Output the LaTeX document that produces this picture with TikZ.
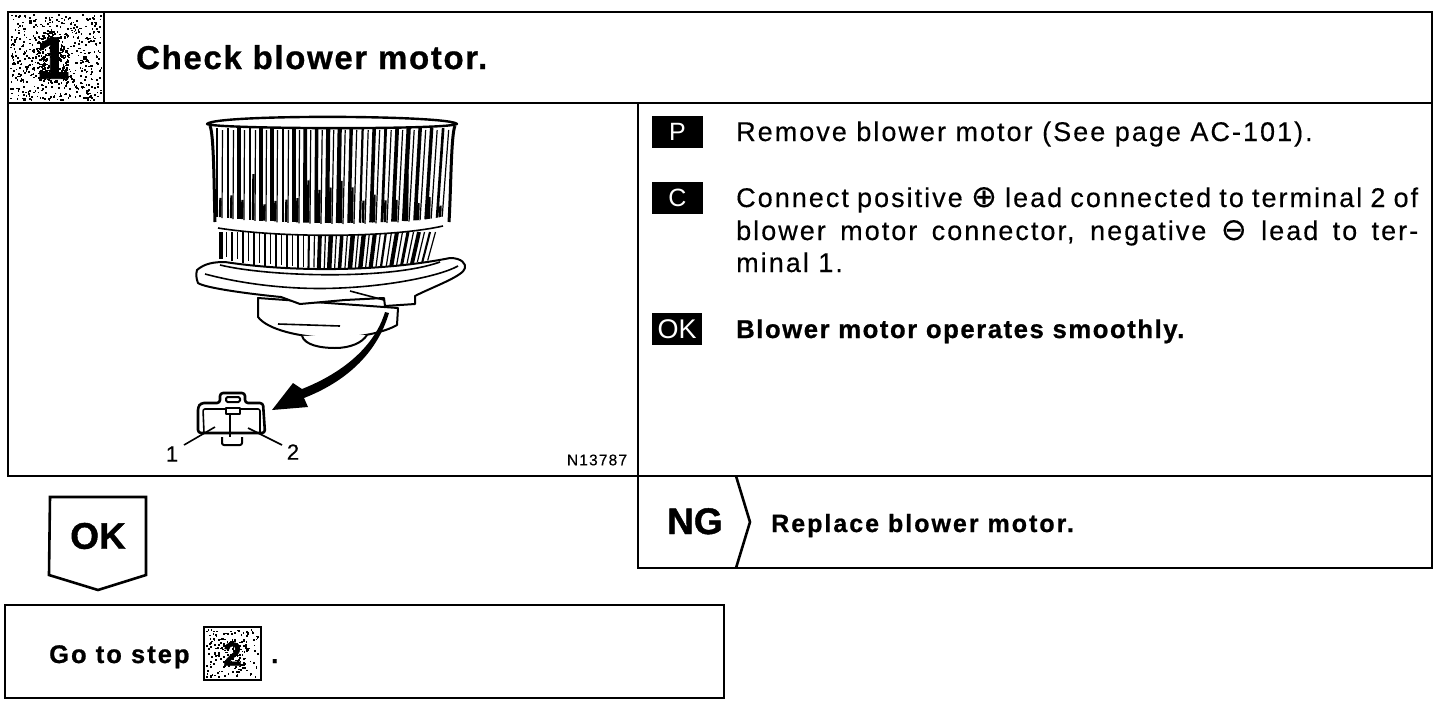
\documentclass[tikz,border=0pt]{standalone}
\usepackage{fontspec}
\setmainfont{Liberation Sans}
\newfontfamily\bodyfont[LetterSpace=7.5,FakeBold=0.35]{Liberation Sans}
\newfontfamily\heavyfont[LetterSpace=6,BoldFeatures={FakeBold=0.8}]{Liberation Sans}
\newfontfamily\markfont[BoldFeatures={FakeBold=1.2}]{Liberation Sans}
\newfontfamily\symfont[FakeBold=0.2]{DejaVu Sans}
\usetikzlibrary{positioning}
\tikzset{
  rule/.style = {line width=2.6pt, black},
  heavy/.style = {anchor=base west, inner sep=0pt, font=\bfseries\heavyfont},
  tagbox/.style = {fill=black, text=white, minimum width=51pt, minimum height=32pt, inner sep=0pt, font=\fontsize{25}{25}\selectfont},
  steptext/.style = {anchor=base west, inner sep=0pt, font=\fontsize{27}{30}\selectfont\bodyfont},
  part/.style = {line width=2pt, line join=round, fill=white},
  thinpart/.style = {line width=1.6pt},
}
% random dots for the screened squares
\newcommand{\screendots}[5]{%
  \foreach \n in {1,...,#5}{
    \pgfmathsetmacro{\dx}{#1+rnd*(#3-#1-2)}
    \pgfmathsetmacro{\dy}{#2+rnd*(#4-#2-2)}
    \fill (\dx,\dy) rectangle ++(1.7,1.7);
  }}
\begin{document}
\begin{tikzpicture}[x=1pt, y=-1pt]
  \useasboundingbox (0,0) rectangle (1456,710);
  \fill[white] (0,0) rectangle (1456,710);
  \pgfmathsetseed{137}

  % frames
  \draw[rule] (8,12) rectangle (1432,476);
  \draw[rule] (8,103) -- (1432,103);
  \draw[rule] (104,12) -- (104,103);
  \draw[rule] (638,103) -- (638,568) -- (1432,568) -- (1432,476) -- (638,476);
  \draw[rule] (736,476) -- (750,522) -- (736,568);
  \draw[rule] (50,497) -- (146,497) -- (146,575) -- (98,590) -- (49,575) -- cycle;
  \draw[rule] (5,605) rectangle (724,698);

  % step squares
  \screendots{10}{14}{103}{102}{560}
  \screendots{38}{32}{70}{84}{190}
  \node[inner sep=0pt, font=\fontsize{60}{60}\selectfont\bfseries\markfont] (num1) at (53,58) {1};
  \draw[line width=1.6pt] (204,627) rectangle (261,680);
  \screendots{206}{629}{260}{679}{130}
  \screendots{218}{638}{248}{670}{70}
  \node[inner sep=0pt, font=\fontsize{33}{33}\selectfont\bfseries\markfont] (num2) at (232.5,654) {2};

  % heading and results
  \node[heavy, font=\fontsize{33}{33}\selectfont\bfseries\heavyfont\addfontfeature{LetterSpace=5}] (title) at (136,69) {Check blower motor.};
  \node[inner sep=0pt, font=\fontsize{37}{37}\selectfont\bfseries\markfont] (okmark) at (98,536) {OK};
  \node[heavy, font=\fontsize{25.5}{26}\selectfont\bfseries\heavyfont\addfontfeature{LetterSpace=8}] (goto) at (49,663) {Go to step};
  \node[heavy, font=\fontsize{26}{26}\selectfont\bfseries\heavyfont] (gotoend) at (271,663) {.};
  \node[heavy, font=\fontsize{37}{37}\selectfont\bfseries\markfont] (ngmark) at (667,534) {NG};
  \node[heavy, font=\fontsize{25}{26}\selectfont\bfseries\heavyfont\addfontfeature{LetterSpace=8}] (replace) at (771,532) {Replace blower motor.};

  % right column
  \node[tagbox] (tagP) at (677.5,132) {P};
  \node[tagbox] (tagC) at (677.5,197.5) {C};
  \node[tagbox, minimum width=50pt, font=\fontsize{27}{27}\selectfont] (tagOK) at (677,329) {OK};
  \node[steptext] (textP) at (736,141) {Remove blower motor (See page AC-101).};
  \node[steptext] (textCa) at (736,207) {\makebox[682pt][s]{Connect positive {\symfont\fontsize{31}{31}\selectfont ⊕} lead connected to terminal 2 of}};
  \node[steptext, below=33pt of textCa.base west, anchor=base west] (textCb) {\makebox[682pt][s]{blower motor connector, negative {\symfont\fontsize{31}{31}\selectfont ⊖} lead to ter-}};
  \node[steptext, below=32pt of textCb.base west, anchor=base west] (textCc) {minal 1.};
  \node[heavy, font=\fontsize{25.7}{26}\selectfont\bfseries\heavyfont] (textOK) at (736,338) {Blower motor operates smoothly.};

  % wheel
  \foreach \x in {217,228,...,446}{
    \pgfmathsetmacro{\lean}{max(0,(\x-300)*0.045)}
    \pgfmathsetmacro{\low}{217+6*(1-((\x-335)/120)^2)}
    \pgfmathsetmacro{\wid}{2+2.6*rnd}
    \pgfmathsetmacro{\stub}{\low-12-40*rnd}
    \draw[line width=\wid pt] (\x+\lean,128) -- (\x,\low);
    \draw[line width=1.2pt] (\x+\lean+5.5,130) -- (\x+5,\low+1);
    \draw[line width=2.4pt] (\x+3.5,\stub) -- (\x+3,\low);
  }
  \foreach \x in {221,232,...,440}{
    \pgfmathsetmacro{\lean}{max(0,(\x-300)*0.06)}
    \pgfmathsetmacro{\low}{258+12*(1-((\x-335)/120)^2)}
    \pgfmathsetmacro{\wid}{2+2.6*rnd}
    \draw[line width=\wid pt] (\x,232) -- (\x-\lean,\low);
    \draw[line width=1.2pt] (\x+5.5,232) -- (\x+5.5-\lean,\low-2);
  }
  \draw[line width=3pt] (210,126) .. controls (214,134) and (214,190) .. (215,222);
  \draw[line width=3pt] (455,126) .. controls (451,134) and (451,190) .. (449,222);
  \draw[part, line width=2.4pt] (207,124) .. controls (215,129) and (445,130) .. (457,124) .. controls (450,115) and (215,114) .. (207,124) -- cycle;
  \fill[white] (217,218) .. controls (280,228) and (390,228) .. (446,216) -- (443,226) .. controls (390,238) and (280,238) .. (218,228) -- cycle;
  \draw[thinpart] (218,228) .. controls (280,238) and (390,238) .. (443,226);

  % motor body
  \draw[part] (258,298) -- (258,317) .. controls (268,330) and (300,337) .. (330,338) .. controls (360,338) and (385,332) .. (397,325) -- (398,308) -- cycle;
  \draw[part] (302,336) .. controls (305,345) and (320,348) .. (335,348) .. controls (350,348) and (362,343) .. (367,335);
  \draw[thinpart] (278,324) -- (340,326);
  % flange
  \draw[part] (197,270) .. controls (205,263) and (215,262) .. (225,262) .. controls (290,272) and (380,272) .. (450,258) .. controls (462,258) and (466,264) .. (465,268) .. controls (464,276) and (430,288) .. (415,296) -- (415,304) -- (385,306) -- (384,298) -- (345,300) -- (300,304) -- (281,297) .. controls (250,294) and (205,288) .. (198,283) .. controls (196,278) and (196,274) .. (197,270) -- cycle;
  \draw[thinpart] (205,274) .. controls (250,286) and (300,290) .. (340,288) .. controls (390,286) and (440,276) .. (458,266);
  \draw[thinpart] (220,265) .. controls (270,277) and (390,280) .. (440,262);
  \draw[thinpart] (350,291) -- (384,300);

  % arrow
  \fill (385,312) .. controls (375,345) and (345,372) .. (302,389) -- (293,383) -- (272,410) -- (308,407) -- (304,398) .. controls (350,380) and (378,350) .. (389,313) -- cycle;

  % connector
  \draw[part, line width=2.6pt, rounded corners=3pt] (220,403) -- (220,393) -- (245,393) -- (245,403) -- (263,403) -- (265,433) -- (198,433) -- (198,407) -- (201,403) -- cycle;
  \draw[thinpart, rounded corners=2pt] (204,433) -- (203,409) -- (225,409) -- (240,409) -- (260,409) -- (260,433);
  \draw[part, rounded corners=1.5pt] (226,397) rectangle (240,402);
  \draw[part] (226,408) rectangle (240,414);
  \draw[thinpart] (230,414) -- (230,437);
  \draw[part, rounded corners=2pt] (222,437) -- (222,445) -- (242,445) -- (242,437);

  \node[font=\fontsize{22}{22}\selectfont\bodyfont, inner sep=0pt] (pin1) at (172,454) {1};
  \node[font=\fontsize{22}{22}\selectfont\bodyfont, inner sep=0pt] (pin2) at (293,452) {2};
  \coordinate (pin1end) at (215,427);
  \coordinate (pin2end) at (248,428);
  \draw[thinpart] (pin1) ++(12,-9) -- (pin1end);
  \draw[thinpart] (pin2) ++(-11,-7) -- (pin2end);
  \node[font=\fontsize{15.5}{15.5}\selectfont\bodyfont, inner sep=0pt] (partno) at (597,460) {N13787};
\end{tikzpicture}
\end{document}
